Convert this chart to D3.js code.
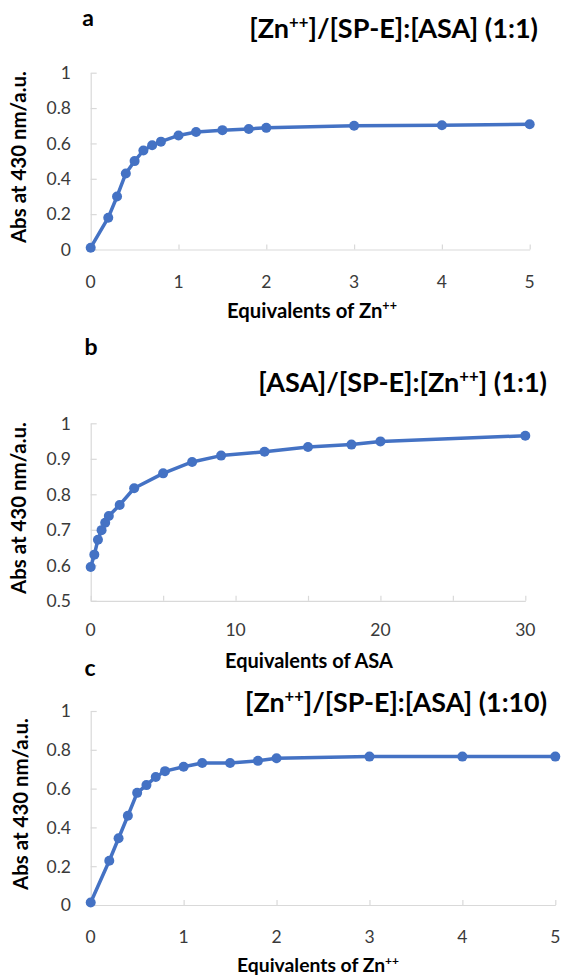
<!DOCTYPE html>
<html>
<head>
<meta charset="utf-8">
<script src="https://cdn.jsdelivr.net/npm/d3@7"></script>
<style>
  html, body { margin: 0; padding: 0; background: #fff; }
  svg { display: block; }
</style>
</head>
<body>
<svg id="chart" width="563" height="976"></svg>
<script>
// ---- Data ----
const panelLetters = ["a", "b", "c"];

// Panel a: [Zn++]/[SP-E]:[ASA] (1:1)
const xA = [0, 0.2, 0.3, 0.4, 0.5, 0.6, 0.7, 0.8, 1, 1.2, 1.5, 1.8, 2, 3, 4, 5];
const yA = [0.01, 0.18, 0.30, 0.43, 0.50, 0.56, 0.59, 0.61, 0.645, 0.665, 0.675, 0.682, 0.688, 0.70, 0.703, 0.708];

// Panel b: [ASA]/[SP-E]:[Zn++] (1:1)
const xB = [0, 0.25, 0.5, 0.75, 1, 1.25, 2, 3, 5, 7, 9, 12, 15, 18, 20, 30];
const yB = [0.595, 0.63, 0.672, 0.699, 0.72, 0.739, 0.77, 0.817, 0.859, 0.891, 0.909, 0.92, 0.933, 0.94, 0.949, 0.965];

// Panel c: [Zn++]/[SP-E]:[ASA] (1:10)
const xC = [0, 0.2, 0.3, 0.4, 0.5, 0.6, 0.7, 0.8, 1, 1.2, 1.5, 1.8, 2, 3, 4, 5];
const yC = [0.013, 0.228, 0.344, 0.46, 0.578, 0.618, 0.66, 0.69, 0.713, 0.732, 0.732, 0.743, 0.756, 0.765, 0.765, 0.765];

// Tick values
const xTicksA = [0, 1, 2, 3, 4, 5];
const yTicksA = [0, 0.2, 0.4, 0.6, 0.8, 1];
const xTicksB = [0, 5, 10, 15, 20, 25, 30];
const xLabelsB = [0, 10, 20, 30];
const yTicksB = [0.5, 0.6, 0.7, 0.8, 0.9, 1];
const xTicksC = [0, 1, 2, 3, 4, 5];
const yTicksC = [0, 0.2, 0.4, 0.6, 0.8, 1];

// Titles (parts: [text, isSuperscript])
const titleA = [["[Zn", false], ["++", true], ["]/[SP-E]:[ASA] (1:1)", false]];
const titleB = [["[ASA]/[SP-E]:[Zn", false], ["++", true], ["] (1:1)", false]];
const titleC = [["[Zn", false], ["++", true], ["]/[SP-E]:[ASA] (1:10)", false]];
const xTitleZn = [["Equivalents of Zn", false], ["++", true]];
const xTitleASA = [["Equivalents of ASA", false]];
const yTitle = [["Abs at 430 nm/a.u.", false]];

// ---- Layout ----
const FONT = "Lato, 'Open Sans', sans-serif";
const BLUE = "#4472C4";
const AXIS = "#d9d9d9";
const TICKTEXT = "#3a3a3a";

const panels = [
  { letter: panelLetters[0], xs: xA, ys: yA, xDom: [0, 5], yDom: [0, 1],
    left: 90.7, right: 529.7, top: 72.7, bottom: 249.5,
    xTicks: xTicksA, xLabels: xTicksA, yTicks: yTicksA,
    title: titleA, titleRight: 538, titleBase: 38, titleWidth: 289,
    letterX: 88, letterBase: 26,
    xTitle: xTitleZn, xTitleBase: 318, xTitleWidth: 170, xTitleX: 312, xTickBase: 287.5, yTitleX: 19 },
  { letter: panelLetters[1], xs: xB, ys: yB, xDom: [0, 30], yDom: [0.5, 1],
    left: 90.7, right: 525.3, top: 423.3, bottom: 600.8,
    xTicks: xTicksB, xLabels: xLabelsB, yTicks: yTicksB,
    title: titleB, titleRight: 547, titleBase: 392, titleWidth: 289,
    letterX: 91, letterBase: 355,
    xTitle: xTitleASA, xTitleBase: 668, xTitleWidth: 168, xTitleX: 309, xTickBase: 636, yTitleX: 19 },
  { letter: panelLetters[2], xs: xC, ys: yC, xDom: [0, 5], yDom: [0, 1],
    left: 90.7, right: 555.3, top: 711, bottom: 905,
    xTicks: xTicksC, xLabels: xTicksC, yTicks: yTicksC,
    title: titleC, titleRight: 547, titleBase: 712, titleWidth: 302,
    letterX: 90, letterBase: 676,
    xTitle: xTitleZn, xTitleBase: 972, xTitleWidth: 162, xTitleX: 318, xTickBase: 943, yTitleX: 21 }
];

const svg = d3.select("#chart");
svg.append("rect").attr("width", 563).attr("height", 976).attr("fill", "#fff");

function richText(g, parts, size) {
  const t = g.append("text").attr("font-family", FONT).attr("font-weight", "bold")
    .attr("font-size", size).attr("fill", "#000");
  parts.forEach(([s, sup], i) => {
    const ts = t.append("tspan").text(s);
    if (sup) ts.attr("font-size", size * 0.62).attr("dy", -size * 0.38);
    else if (i > 0 && parts[i - 1][1]) ts.attr("dy", size * 0.38);
  });
  return t;
}
// Bold rich text sized so that its width equals the target width
function fittedText(g, parts, width) {
  const probe = richText(g, parts, 20);
  const w = probe.node().getComputedTextLength();
  probe.remove();
  return richText(g, parts, 20 * width / w);
}

const yFmt = d => String(+d.toFixed(1));

panels.forEach(p => {
  const g = svg.append("g");
  const x = d3.scaleLinear().domain(p.xDom).range([p.left, p.right]);
  const y = d3.scaleLinear().domain(p.yDom).range([p.bottom, p.top]);

  // Axes (ticks pointing into the plot)
  const xAxis = d3.axisBottom(x).tickValues(p.xTicks).tickSizeInner(-5).tickSizeOuter(0).tickFormat("");
  const gx = g.append("g").attr("transform", `translate(0,${p.bottom})`).call(xAxis);
  gx.selectAll("path, line").attr("stroke", AXIS).attr("stroke-width", 1.2);

  const yAxis = d3.axisLeft(y).tickValues(p.yTicks).tickSizeInner(-6).tickSizeOuter(0).tickFormat("");
  const gy = g.append("g").attr("transform", `translate(${p.left},0)`).call(yAxis);
  gy.selectAll("path, line").attr("stroke", AXIS).attr("stroke-width", 1.2);

  // Tick labels
  g.selectAll(".xl").data(p.xLabels).join("text")
    .attr("x", d => x(d)).attr("y", p.xTickBase)
    .attr("text-anchor", "middle").attr("font-family", FONT).attr("font-size", 17.5)
    .attr("fill", TICKTEXT).text(d => d);
  g.selectAll(".yl").data(p.yTicks).join("text")
    .attr("x", 71).attr("y", d => y(d)).attr("dy", "0.36em")
    .attr("text-anchor", "end").attr("font-family", FONT).attr("font-size", 17.5)
    .attr("fill", TICKTEXT).text(d => yFmt(d));

  // Line + markers
  const pts = p.xs.map((v, i) => [v, p.ys[i]]);
  g.append("path").datum(pts)
    .attr("d", d3.line().x(d => x(d[0])).y(d => y(d[1])))
    .attr("fill", "none").attr("stroke", BLUE).attr("stroke-width", 3.5)
    .attr("stroke-linejoin", "round");
  g.selectAll(".pt").data(pts).join("circle")
    .attr("cx", d => x(d[0])).attr("cy", d => y(d[1])).attr("r", 5)
    .attr("fill", BLUE);

  // Panel letter
  g.append("text").attr("x", p.letterX).attr("y", p.letterBase)
    .attr("text-anchor", "middle").attr("font-family", FONT).attr("font-weight", "bold")
    .attr("font-size", 23).text(p.letter);

  // Title
  fittedText(g, p.title, p.titleWidth)
    .attr("x", p.titleRight).attr("y", p.titleBase).attr("text-anchor", "end");

  // X axis title
  fittedText(g, p.xTitle, p.xTitleWidth)
    .attr("x", p.xTitleX).attr("y", p.xTitleBase).attr("text-anchor", "middle");

  // Y axis title
  fittedText(g, yTitle, 172)
    .attr("transform", `translate(${p.yTitleX},${(p.top + p.bottom) / 2 - 4}) rotate(-90)`)
    .attr("dy", "0.36em").attr("text-anchor", "middle");
});
</script>
</body>
</html>
